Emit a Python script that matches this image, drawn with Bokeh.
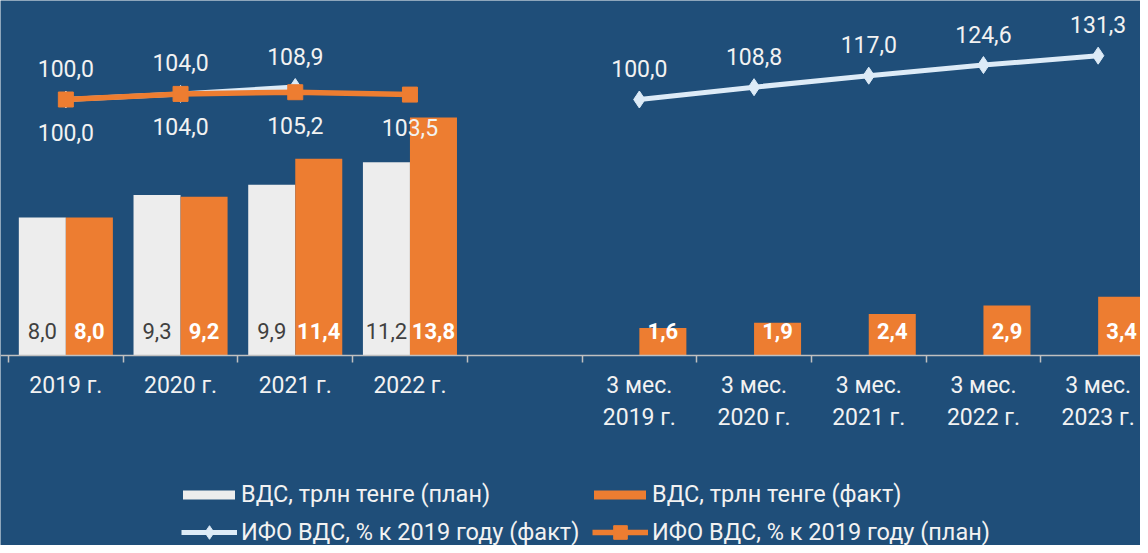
from bokeh.plotting import figure
from bokeh.models import (Range1d, ColumnDataSource, LinearAxis, FixedTicker,
                          Legend, LegendItem)
from bokeh.transform import dodge
from bokeh.core.properties import value
from bokeh.embed import file_html
from bokeh.resources import INLINE

# ---------------- data ----------------
categories = ["2019 г.", "2020 г.", "2021 г.", "2022 г.", " ",
              "3 мес.\n2019 г.", "3 мес.\n2020 г.", "3 мес.\n2021 г.",
              "3 мес.\n2022 г.", "3 мес.\n2023 г."]
vds_plan = [8.0, 9.3, 9.9, 11.2, None, None, None, None, None, None]
vds_fact = [8.0, 9.2, 11.4, 13.8, None, 1.6, 1.9, 2.4, 2.9, 3.4]
ifo_fact = [100.0, 104.0, 108.9, None, None, 100.0, 108.8, 117.0, 124.6, 131.3]
ifo_plan = [100.0, 104.0, 105.2, 103.5, None, None, None, None, None, None]

name_plan = "ВДС, трлн тенге (план)"
name_fact = "ВДС, трлн тенге (факт)"
name_ifo_fact = "ИФО ВДС, % к 2019 году (факт)"
name_ifo_plan = "ИФО ВДС, % к 2019 году (план)"

# ---------------- style ----------------
BG = "#1F4E79"
ORANGE = "#ED7D31"
WHITE_BAR = "#EDEDED"
WHITE_LINE = "#DDEBF7"
TXT = "#F2F2F2"
AXIS = "#C0C0C0"
FONT = "Roboto"

n = len(categories)
centers = [i + 0.5 for i in range(n)]   # category slot centres (slot width = 1)


def fmt(v):
    return f"{v:.1f}".replace(".", ",")


def bar_source(vals):
    rows = [(x, v) for x, v in zip(centers, vals) if v is not None]
    return ColumnDataSource(dict(x=[r[0] for r in rows], val=[r[1] for r in rows],
                                 label=[fmt(r[1]) for r in rows]))


def line_source(vals):
    return ColumnDataSource(dict(x=centers,
                                 val=[float("nan") if v is None else v for v in vals],
                                 label=["" if v is None else fmt(v) for v in vals]))


src_plan = bar_source(vds_plan)
src_fact = bar_source(vds_fact)
src_ifo_fact = line_source(ifo_fact)
src_ifo_plan = line_source(ifo_plan)

slot_px = 114.7
p = figure(width=1140, height=545,
           x_range=Range1d(-8 / slot_px, 1132 / slot_px),
           y_range=Range1d(-190 / 17.25, 355 / 17.25),
           output_backend="svg", toolbar_location=None,
           x_axis_location=None, y_axis_location=None, min_border=0,
           background_fill_color=BG, border_fill_color=BG, outline_line_color=None)
p.grid.visible = False
p.extra_y_ranges = {"pct": Range1d(100 - 446 / 1.4, 100 + 99 / 1.4)}

# bars
bw = 0.41
r_plan = p.vbar(x=dodge("x", -0.205), top="val", width=bw,
                source=src_plan, fill_color=WHITE_BAR, line_color=None)
r_fact = p.vbar(x=dodge("x", 0.205), top="val", width=bw,
                source=src_fact, fill_color=ORANGE, line_color=None)

# lines
l_fact = p.line(x="x", y="val", source=src_ifo_fact, y_range_name="pct",
                line_color=WHITE_LINE, line_width=5)
m_fact = p.scatter(x="x", y="val", source=src_ifo_fact, y_range_name="pct",
                   marker="diamond", size=17, fill_color=WHITE_LINE, line_color=WHITE_LINE)
l_plan = p.line(x="x", y="val", source=src_ifo_plan, y_range_name="pct",
                line_color=ORANGE, line_width=5.5)
m_plan = p.scatter(x="x", y="val", source=src_ifo_plan, y_range_name="pct",
                   marker="square", size=15, fill_color=ORANGE, line_color=ORANGE)

# bar labels
p.text(x=dodge("x", -0.205), y=0, text="label", source=src_plan,
       y_offset=-25, text_align="center", text_baseline="middle",
       text_font=value(FONT), text_font_size="22px", text_color="#404040")
p.text(x=dodge("x", 0.205), y=0, text="label", source=src_fact,
       y_offset=-25, text_align="center", text_baseline="middle",
       text_font=value(FONT), text_font_size="22px", text_font_style="bold",
       text_color="#FFFFFF")

# line labels
p.text(x="x", y="val", text="label", source=src_ifo_fact, y_range_name="pct",
       y_offset=-31, text_align="center", text_baseline="middle",
       text_font=value(FONT), text_font_size="23px", text_color=TXT)
p.text(x="x", y="val", text="label", source=src_ifo_plan, y_range_name="pct",
       y_offset=33, text_align="center", text_baseline="middle",
       text_font=value(FONT), text_font_size="23px", text_color=TXT)

# axes: boundary ticks + category labels
tick_axis = LinearAxis(fixed_location=0,
                       ticker=FixedTicker(ticks=list(range(n + 1))),
                       major_label_overrides={i: "" for i in range(n + 1)},
                       major_tick_out=7, major_tick_in=0,
                       major_tick_line_color=AXIS, major_tick_line_width=1.5,
                       minor_tick_line_color=None,
                       axis_line_color=AXIS, axis_line_width=1.5)
p.add_layout(tick_axis, "below")

cat_axis = LinearAxis(fixed_location=0, ticker=FixedTicker(ticks=centers),
                      major_label_overrides=dict(zip(centers, categories)),
                      major_tick_line_color=None, minor_tick_line_color=None,
                      major_tick_out=0, major_tick_in=0, axis_line_color=None,
                      major_label_standoff=16,
                      major_label_text_font=FONT, major_label_text_font_size="23px",
                      major_label_text_color=TXT)
p.add_layout(cat_axis, "below")


# legends (one per item for exact placement)
def make_legend(label, renderers, loc, gw, gh, standoff):
    lg = Legend(items=[LegendItem(label=label, renderers=renderers)],
                location=loc, glyph_width=gw, glyph_height=gh, label_standoff=standoff,
                padding=0, margin=0, spacing=0, border_line_color=None,
                background_fill_alpha=0, label_text_font=FONT,
                label_text_font_size="23.5px", label_text_color=TXT)
    p.add_layout(lg)


make_legend(name_plan, [r_plan], (176, 37), 65, 11, 0)
make_legend(name_fact, [r_fact], (587, 37), 65, 11, 0)
make_legend(name_ifo_fact, [l_fact, m_fact], (181, -4), 56, 34, 4)
make_legend(name_ifo_plan, [l_plan, m_plan], (592, -4), 56, 34, 4)

open("out.html", "w").write(file_html(p, INLINE))
